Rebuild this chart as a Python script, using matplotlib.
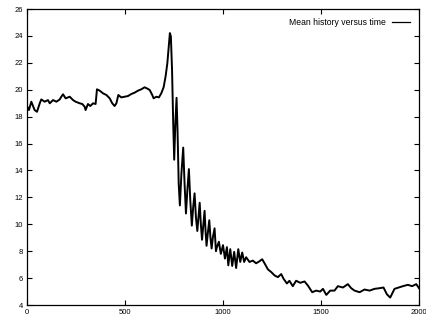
#!/usr/bin/env python3
"""Mean history versus time, gnuplot-like look."""

import matplotlib
matplotlib.use("Agg")
import matplotlib.pyplot as plt
from matplotlib.lines import Line2D

# values
time = [0, 10, 22, 39, 51, 65, 73, 90, 107, 116, 133, 150, 167, 175, 184, 197,
        218, 235, 248, 269, 282, 294, 299, 311, 323, 337, 350, 357, 371, 388,
        405, 422, 435, 447, 456, 466, 481, 498, 515, 532, 549, 566, 583, 600,
        612, 626, 639, 646, 660, 673, 685, 697, 707, 716, 723, 729, 734, 740,
        746, 751, 757, 763, 768, 774, 780, 788, 797, 804, 811, 818, 826, 833,
        841, 848, 855, 862, 869, 875, 881, 887, 893, 900, 906, 911, 916, 923,
        930, 936, 942, 948, 957, 964, 969, 979, 989, 1000, 1010, 1020, 1027,
        1037, 1047, 1057, 1067, 1078, 1088, 1098, 1108, 1118, 1135, 1152, 1169,
        1186, 1200, 1212, 1229, 1246, 1263, 1280, 1297, 1309, 1326, 1339, 1356,
        1373, 1394, 1416, 1433, 1455, 1475, 1496, 1510, 1527, 1547, 1569, 1586,
        1612, 1637, 1654, 1671, 1697, 1722, 1748, 1773, 1799, 1819, 1836, 1853,
        1875, 1897, 1918, 1943, 1965, 1986, 2000]
mean_hist = [18.79, 18.49, 19.11, 18.49, 18.36, 18.99, 19.28, 19.11, 19.23,
             18.99, 19.23, 19.11, 19.28, 19.48, 19.66, 19.36, 19.48, 19.23,
             19.11, 18.99, 18.94, 18.74, 18.49, 18.94, 18.79, 18.99, 18.94,
             20.03, 19.93, 19.73, 19.61, 19.36, 18.99, 18.79, 18.99, 19.61,
             19.43, 19.48, 19.53, 19.68, 19.78, 19.93, 20.03, 20.18, 20.10,
             19.98, 19.61, 19.36, 19.48, 19.43, 19.73, 20.18, 20.98, 21.97,
             23.21, 24.21, 23.96, 21.5, 17.5, 14.8, 17.5, 19.4, 17.0, 13.0,
             11.4, 13.8, 15.7, 13.0, 10.8, 12.5, 14.1, 11.8, 9.9, 11.3, 12.3,
             10.5, 9.5, 10.6, 11.6, 10.0, 8.85, 10.0, 11.0, 9.5, 8.4, 9.4,
             10.3, 9.0, 8.2, 9.0, 9.7, 8.0, 8.3, 8.7, 7.8, 8.45, 7.45, 8.3,
             6.95, 8.15, 6.9, 7.95, 6.75, 8.15, 7.2, 7.9, 7.2, 7.55, 7.2, 7.3,
             7.1, 7.25, 7.4, 7.1, 6.65, 6.45, 6.2, 6.07, 6.3, 5.95, 5.6, 5.8,
             5.4, 5.8, 5.65, 5.75, 5.45, 4.95, 5.07, 5.0, 5.2, 4.75, 5.07, 5.07,
             5.4, 5.3, 5.55, 5.25, 5.07, 4.95, 5.15, 5.07, 5.2, 5.25, 5.3, 4.8,
             4.55, 5.2, 5.3, 5.4, 5.5, 5.4, 5.55, 5.25]

plt.rcParams["font.family"] = ["Liberation Sans", "DejaVu Sans"]

fig = plt.figure(figsize=(4.26, 3.22), dpi=100)
ax = fig.add_axes([27 / 426, 17 / 322, 392 / 426, 296 / 322])

ax.plot(time, mean_hist, color="black", linewidth=1.4)

ax.set_xlim(0, 2000)
ax.set_ylim(4, 26)
ax.set_xticks([0, 500, 1000, 1500, 2000])
ax.set_yticks(range(4, 27, 2))
ax.tick_params(direction="in", length=3.5, width=0.8, top=True, right=True,
               labelsize=5.5, pad=3)
for s in ax.spines.values():
    s.set_linewidth(0.9)

# gnuplot style key: text first, thin sample line after it
key = Line2D([], [], color="black", linewidth=0.9)
ax.legend([key], ["Mean history versus time"], loc="upper right",
          frameon=False, markerfirst=False, fontsize=6.2,
          handlelength=2.0, handletextpad=0.8, borderaxespad=0.7)

fig.savefig("out.png", dpi=100)
